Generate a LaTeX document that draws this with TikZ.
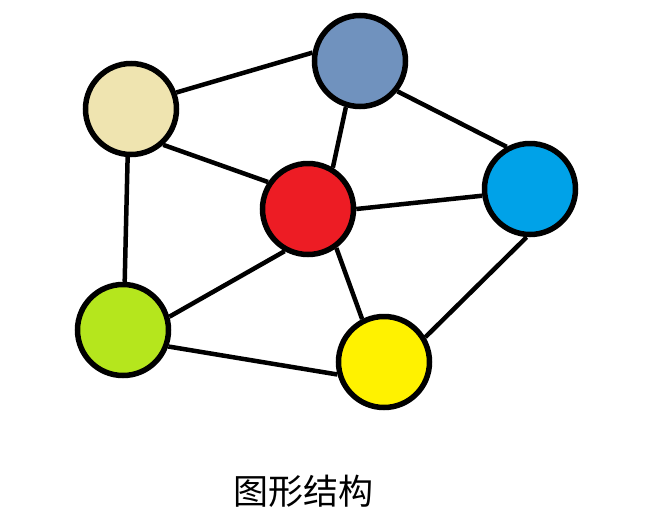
\documentclass[tikz,border=0pt]{standalone}
\usepackage{fontspec}
\newfontfamily\cjk{Noto Sans CJK SC}
\usetikzlibrary{positioning}
\definecolor{tan}{HTML}{EFE4B0}
\definecolor{slate}{HTML}{7092BE}
\definecolor{sky}{HTML}{00A2E8}
\definecolor{paintred}{HTML}{ED1C24}
\definecolor{lime}{HTML}{B5E61D}
\definecolor{paintyellow}{HTML}{FFF200}

\begin{document}
\begin{tikzpicture}[x=1pt, y=-1pt, line width=4.5pt, draw=black]
	\tikzstyle{vertex}=[circle, draw=black, line width=5.5pt, minimum size=91pt, inner sep=0pt]
	\tikzstyle{link}=[line width=4.5pt]
	\useasboundingbox (0,0) rectangle (662,528);
	
	\node[vertex, fill=tan] (v1) at (131,109) {};
	\node[vertex, fill=slate] (v2) at (360,61) {};
	\node[vertex, fill=sky] (v3) at (530,189) {};
	\node[vertex, fill=paintred] (v4) at (308,209) {};
	\node[vertex, fill=lime] (v5) at (123,330) {};
	\node[vertex, fill=paintyellow] (v6) at (384,362) {};
	
	\draw[link] (v1.20) -- (v2.170);
	\draw[link] (v1.-48) -- (v4.146);
	\draw[link] (v1.-94) -- (v5.88);
	\draw[link] (v2.-107) -- (v4.59);
	\draw[link] (v2.-39) -- (v3.119);
	\draw[link] (v4.0) -- (v3.-172);
	\draw[link] (v4.-119) -- (v5.16);
	\draw[link] (v4.-54) -- (v6.117);
	\draw[link] (v3.-94) -- (v6.31);
	\draw[link] (v5.-20) -- (v6.-165);
	
	\node[font=\cjk\fontsize{35}{40}\selectfont] (title) at (303,491) {图形结构};
\end{tikzpicture}
\end{document}
